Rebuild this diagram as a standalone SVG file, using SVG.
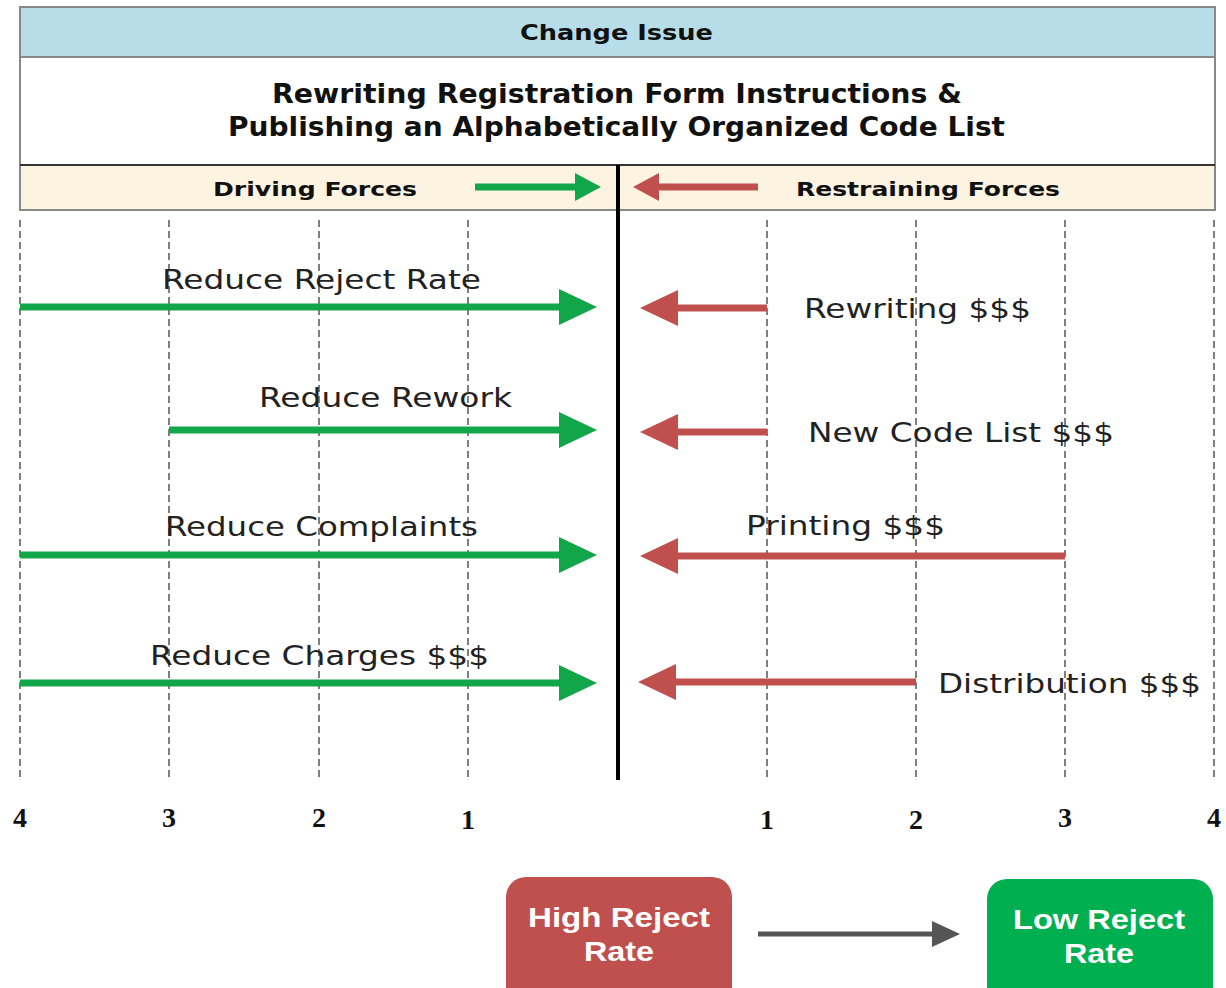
<svg xmlns="http://www.w3.org/2000/svg" width="1226" height="988" viewBox="0 0 1226 988">
  <defs>
    <style>
      .hdr { font-family: "DejaVu Sans", Verdana, sans-serif; font-weight: bold; fill: #111; }
      .lbl { font-family: "DejaVu Sans", Verdana, sans-serif; font-size: 27px; fill: #222; }
      .num { font-family: "Liberation Serif", "DejaVu Serif", serif; font-weight: bold; font-size: 28px; fill: #111; text-anchor: middle; }
      .grid { stroke: #555; stroke-width: 1.5; stroke-dasharray: 7 4; fill: none; }
      .drive { stroke: #12a64a; stroke-width: 7; fill: none; }
      .restrain { stroke: #c0504d; stroke-width: 7; fill: none; }
      .boxtxt { font-family: "Liberation Sans", Arial, sans-serif; font-weight: bold; font-size: 28px; fill: #fff; }
    </style>
    <!-- arrowheads start at the line end (refX=0) so the shaft never pokes past the tip -->
    <marker id="headGreen" markerUnits="userSpaceOnUse" markerWidth="40" markerHeight="40" viewBox="0 0 40 40" refX="1" refY="20" orient="auto">
      <path d="M0,2 L38,20 L0,38 Z" fill="#12a64a"/>
    </marker>
    <marker id="headRed" markerUnits="userSpaceOnUse" markerWidth="40" markerHeight="40" viewBox="0 0 40 40" refX="1" refY="20" orient="auto">
      <path d="M0,2 L38,20 L0,38 Z" fill="#c0504d"/>
    </marker>
    <marker id="headSmallGreen" markerUnits="userSpaceOnUse" markerWidth="30" markerHeight="30" viewBox="0 0 30 30" refX="1" refY="15" orient="auto">
      <path d="M0,1 L26,15 L0,29 Z" fill="#12a64a"/>
    </marker>
    <marker id="headSmallRed" markerUnits="userSpaceOnUse" markerWidth="30" markerHeight="30" viewBox="0 0 30 30" refX="1" refY="15" orient="auto">
      <path d="M0,1 L26,15 L0,29 Z" fill="#c0504d"/>
    </marker>
    <marker id="headGray" markerUnits="userSpaceOnUse" markerWidth="30" markerHeight="30" viewBox="0 0 30 30" refX="1" refY="15" orient="auto">
      <path d="M0,2 L28,15 L0,28 Z" fill="#555"/>
    </marker>
  </defs>

  <rect width="1226" height="988" fill="#fff"/>

  <!-- header table -->
  <g id="header">
    <rect x="20" y="7" width="1195" height="50" fill="#b7dde8" stroke="#888" stroke-width="2"/>
    <rect x="20" y="57" width="1195" height="108" fill="#fff" stroke="#888" stroke-width="2"/>
    <rect x="20" y="165" width="1195" height="45" fill="#fdf3e1" stroke="#888" stroke-width="2"/>
    <line x1="20" y1="165" x2="1215" y2="165" stroke="#333" stroke-width="2"/>
    <text class="hdr" x="520" y="40" font-size="22" textLength="193" lengthAdjust="spacingAndGlyphs">Change Issue</text>
    <text class="hdr" x="272" y="103" font-size="27" textLength="690" lengthAdjust="spacingAndGlyphs">Rewriting Registration Form Instructions &amp;</text>
    <text class="hdr" x="228" y="136" font-size="27" textLength="777" lengthAdjust="spacingAndGlyphs">Publishing an Alphabetically Organized Code List</text>
    <text class="hdr" x="213" y="196" font-size="20" textLength="204" lengthAdjust="spacingAndGlyphs">Driving Forces</text>
    <text class="hdr" x="796" y="196" font-size="20" textLength="264" lengthAdjust="spacingAndGlyphs">Restraining Forces</text>
  </g>

  <!-- scale grid -->
  <g id="grid">
    <line class="grid" x1="20" y1="220" x2="20" y2="780"/>
    <line class="grid" x1="169" y1="220" x2="169" y2="780"/>
    <line class="grid" x1="319" y1="220" x2="319" y2="780"/>
    <line class="grid" x1="468" y1="220" x2="468" y2="780"/>
    <line class="grid" x1="767" y1="220" x2="767" y2="780"/>
    <line class="grid" x1="916" y1="220" x2="916" y2="780"/>
    <line class="grid" x1="1065" y1="220" x2="1065" y2="780"/>
    <line class="grid" x1="1214" y1="220" x2="1214" y2="780"/>
    <text class="num" x="20" y="827">4</text>
    <text class="num" x="169" y="827">3</text>
    <text class="num" x="319" y="827">2</text>
    <text class="num" x="468" y="829">1</text>
    <text class="num" x="767" y="829">1</text>
    <text class="num" x="916" y="829">2</text>
    <text class="num" x="1065" y="827">3</text>
    <text class="num" x="1214" y="827">4</text>
  </g>

  <!-- centre divider -->
  <g id="divider">
    <line x1="618" y1="165" x2="618" y2="780" stroke="#000" stroke-width="4"/>
  </g>

  <!-- force labels -->
  <g id="driving-labels">
    <text class="lbl" x="162" y="289" textLength="319" lengthAdjust="spacingAndGlyphs">Reduce Reject Rate</text>
    <text class="lbl" x="259" y="407" textLength="253" lengthAdjust="spacingAndGlyphs">Reduce Rework</text>
    <text class="lbl" x="165" y="536" textLength="313" lengthAdjust="spacingAndGlyphs">Reduce Complaints</text>
    <text class="lbl" x="150" y="665" textLength="339" lengthAdjust="spacingAndGlyphs">Reduce Charges $$$</text>
  </g>
  <g id="restraining-labels">
    <text class="lbl" x="804" y="318" textLength="227" lengthAdjust="spacingAndGlyphs">Rewriting $$$</text>
    <text class="lbl" x="808" y="442" textLength="306" lengthAdjust="spacingAndGlyphs">New Code List $$$</text>
    <text class="lbl" x="746" y="535" textLength="199" lengthAdjust="spacingAndGlyphs">Printing $$$</text>
    <text class="lbl" x="938" y="693" textLength="263" lengthAdjust="spacingAndGlyphs">Distribution $$$</text>
  </g>

  <!-- force arrows: each line ends where its head begins -->
  <g id="connectors">
    <line class="drive" x1="475" y1="187" x2="576" y2="187" marker-end="url(#headSmallGreen)"/>
    <line class="restrain" x1="758" y1="187" x2="658" y2="187" marker-end="url(#headSmallRed)"/>

    <line class="drive" x1="20" y1="307" x2="560" y2="307" marker-end="url(#headGreen)"/>
    <line class="drive" x1="169" y1="430" x2="560" y2="430" marker-end="url(#headGreen)"/>
    <line class="drive" x1="20" y1="555" x2="560" y2="555" marker-end="url(#headGreen)"/>
    <line class="drive" x1="20" y1="683" x2="560" y2="683" marker-end="url(#headGreen)"/>

    <line class="restrain" x1="767" y1="308" x2="677" y2="308" marker-end="url(#headRed)"/>
    <line class="restrain" x1="767" y1="432" x2="677" y2="432" marker-end="url(#headRed)"/>
    <line class="restrain" x1="1065" y1="556" x2="677" y2="556" marker-end="url(#headRed)"/>
    <line class="restrain" x1="916" y1="682" x2="675" y2="682" marker-end="url(#headRed)"/>

    <line x1="758" y1="934" x2="933" y2="934" stroke="#555" stroke-width="5" marker-end="url(#headGray)"/>
  </g>

  <!-- outcome states -->
  <g id="high-reject">
    <rect x="506" y="877" width="226" height="130" rx="20" fill="#c0504d"/>
    <text class="boxtxt" x="528" y="927" textLength="182" lengthAdjust="spacingAndGlyphs">High Reject</text>
    <text class="boxtxt" x="584" y="961" textLength="70" lengthAdjust="spacingAndGlyphs">Rate</text>
  </g>
  <g id="low-reject">
    <rect x="987" y="879" width="226" height="130" rx="20" fill="#00b050"/>
    <text class="boxtxt" x="1013" y="929" textLength="172" lengthAdjust="spacingAndGlyphs">Low Reject</text>
    <text class="boxtxt" x="1064" y="963" textLength="70" lengthAdjust="spacingAndGlyphs">Rate</text>
  </g>
</svg>
